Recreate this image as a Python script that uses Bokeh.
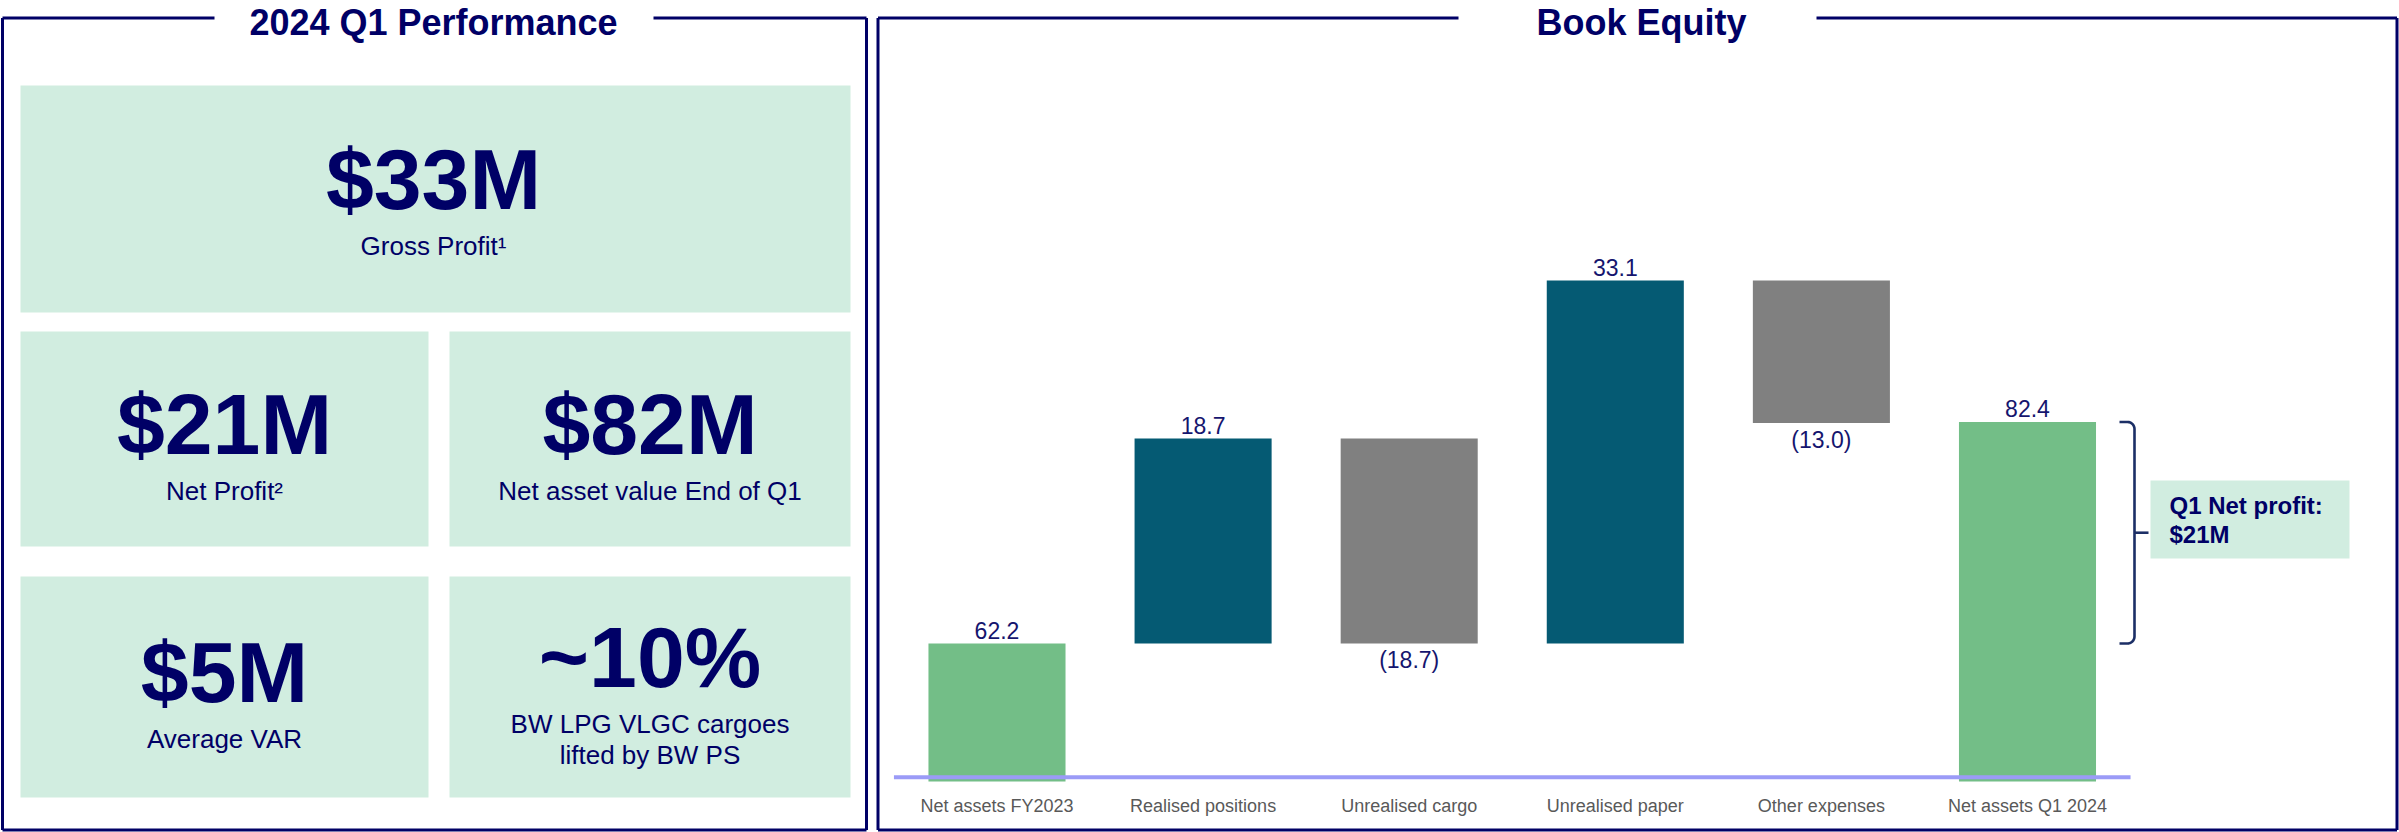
import math
from bokeh.plotting import figure
from bokeh.models import Range1d
from bokeh.embed import file_html
from bokeh.resources import INLINE
from bokeh.core.properties import value

# ---------------- data ----------------
panel_titles = ["2024 Q1 Performance", "Book Equity"]
kpi_values = ["$33M", "$21M", "$82M", "$5M", "~10%"]
kpi_captions = [["Gross Profit¹"], ["Net Profit²"], ["Net asset value End of Q1"],
                ["Average VAR"], ["BW LPG VLGC cargoes", "lifted by BW PS"]]
categories = ["Net assets FY2023", "Realised positions", "Unrealised cargo",
              "Unrealised paper", "Other expenses", "Net assets Q1 2024"]
start_value = 62.2
deltas = [18.7, -18.7, 33.1, -13.0]
end_value = 82.4
bar_labels = ["62.2", "18.7", "(18.7)", "33.1", "(13.0)", "82.4"]
note_lines = ["Q1 Net profit:", "$21M"]

# ---------------- styles ----------------
NAVY = "#000066"
MINT = "#D1EDE0"
GREEN = "#73BE87"
TEAL = "#055A73"
GREY = "#808080"
LABEL = "#15156E"
CAT = "#595959"
AXIS = "#9B9BF7"
BRACKET = "#1C2F66"
FONT = value("Liberation Sans")

W, H = 2399, 832
p = figure(width=W, height=H, x_range=Range1d(0, W), y_range=Range1d(H, 0),
           output_backend="svg", toolbar_location=None, min_border=0,
           x_axis_location=None, y_axis_location=None)
p.grid.visible = False
p.outline_line_color = None
p.background_fill_color = "white"
p.border_fill_color = "white"

# value scale of the waterfall and category scale
axis_floor = 49.6
axis_line = 50.0
VAL_LO, VAL_HI = 44.96, 120.84
p.extra_y_ranges = {"val": Range1d(VAL_LO, VAL_HI)}
p.extra_x_ranges = {"cat": Range1d(-4.835, 6.805)}

# ---------------- panels ----------------
def panel(x0, x1, y0, y1, g0, g1):
    xs = [[x0, g0], [g1, x1], [x0, x0], [x1, x1], [x0, x1]]
    ys = [[y0, y0], [y0, y0], [y0, y1], [y0, y1], [y1, y1]]
    p.multi_line(xs, ys, line_color=NAVY, line_width=3)

panel(2, 866, 17.5, 829.5, 214, 653)
panel(877.5, 2396.5, 17.5, 829.5, 1458, 1816)

# (text y values below are the visual centre of the capitals)
p.text(x=[433, 1641], y=[21.5, 21.5], text=panel_titles, text_font=FONT,
       text_font_style="bold", text_font_size="36px", text_color=NAVY,
       text_align="center", text_baseline="alphabetic")

# KPI tiles
tile_l = [20, 20, 449, 20, 449]
tile_r = [850, 428, 850, 428, 850]
tile_t = [85, 331, 331, 576, 576]
tile_b = [312, 546, 546, 797, 797]
p.quad(left=tile_l, right=tile_r, top=tile_t, bottom=tile_b, fill_color=MINT, line_color=None)

val_x = [433, 224, 649.5, 224, 649.5]
val_y = [178.5, 423, 423, 671.5, 656.5]
p.text(x=val_x, y=val_y, text=kpi_values, text_font=FONT, text_font_style="bold",
       text_font_size="86px", text_color=NAVY, text_align="center", text_baseline="alphabetic")

cap_first_y = [245, 490, 490, 738, 723]
cx, cy, ct = [], [], []
for i, lines in enumerate(kpi_captions):
    for j, t in enumerate(lines):
        cx.append(val_x[i]); cy.append(cap_first_y[i] + 31 * j); ct.append(t)
p.text(x=cx, y=cy, text=ct, text_font=FONT, text_font_size="26px", text_color=NAVY,
       text_align="center", text_baseline="alphabetic")

# ---------------- waterfall ----------------
n = len(categories)
idx = list(range(n))
bottoms, tops, colors = [axis_floor], [start_value], [GREEN]
run = start_value
for d in deltas:
    lo, hi = (run, run + d) if d > 0 else (run + d, run)
    bottoms.append(lo); tops.append(hi)
    colors.append(TEAL if d > 0 else GREY)
    run += d
bottoms.append(axis_floor); tops.append(end_value); colors.append(GREEN)

p.vbar(x=idx, top=tops, bottom=bottoms, width=0.665, fill_color=colors, line_color=None,
       x_range_name="cat", y_range_name="val")

p.segment(x0=[-0.5], x1=[n - 0.5], y0=[axis_line], y1=[axis_line], line_color=AXIS,
          line_width=4, x_range_name="cat", y_range_name="val")

signs = [1] + [1 if d > 0 else -1 for d in deltas] + [1]
up_i = [i for i in idx if signs[i] > 0]
dn_i = [i for i in idx if signs[i] < 0]
p.text(x=up_i, y=[tops[i] for i in up_i], text=[bar_labels[i] for i in up_i], y_offset=-13,
       text_font=FONT, text_font_size="23px", text_color=LABEL, text_align="center",
       text_baseline="alphabetic", x_range_name="cat", y_range_name="val")
p.text(x=dn_i, y=[bottoms[i] for i in dn_i], text=[bar_labels[i] for i in dn_i], y_offset=17,
       text_font=FONT, text_font_size="23px", text_color=LABEL, text_align="center",
       text_baseline="alphabetic", x_range_name="cat", y_range_name="val")

p.text(x=idx, y=[805.5] * n, text=categories, text_font=FONT, text_font_size="18px",
       text_color=CAT, text_align="center", text_baseline="alphabetic", x_range_name="cat")

# ---------------- net profit bracket & note ----------------
ppu = H / (VAL_HI - VAL_LO)
top_v, bot_v = end_value, start_value
mid_v = (top_v + bot_v) / 2
xv, xe, xt, r = 2134, 2119, 2148, 7
ry = r / ppu
bx, by = [xe], [top_v]
for k in range(9):
    a = math.pi / 2 - k * math.pi / 16
    bx.append(xv - r + r * math.cos(a)); by.append(top_v - ry + ry * math.sin(a))
for k in range(9):
    a = -k * math.pi / 16
    bx.append(xv - r + r * math.cos(a)); by.append(bot_v + ry + ry * math.sin(a))
bx.append(xe); by.append(bot_v)
p.line(bx, by, line_color=BRACKET, line_width=2.6, y_range_name="val")
p.segment(x0=[xv], x1=[xt], y0=[mid_v], y1=[mid_v], line_color=BRACKET, line_width=2.6,
          y_range_name="val")

p.quad(left=[2150], right=[2349], top=[480], bottom=[558], fill_color=MINT, line_color=None)
p.text(x=[2169, 2169], y=[504.5, 533.5], text=note_lines, text_font=FONT, text_font_style="bold",
       text_font_size="24px", text_color=NAVY, text_align="left", text_baseline="alphabetic")

open("out.html", "w").write(file_html(p, INLINE))
